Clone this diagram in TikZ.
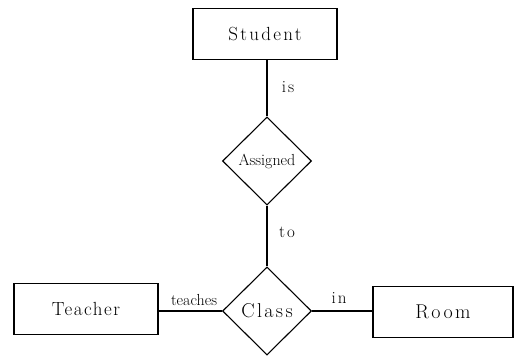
\documentclass[tikz,border=0pt]{standalone}
\usepackage{fontspec}
\usetikzlibrary{shapes.geometric}
\newfontfamily\spacedfont[LetterSpace=12]{Latin Modern Roman}
\newfontfamily\lessspacedfont[LetterSpace=8]{Latin Modern Roman}
\tikzset{
  entity/.style={draw, line width=1.1pt, minimum width=144pt, minimum height=51pt,
    font=\spacedfont\fontsize{19}{22}\selectfont},
  relation/.style={draw, diamond, line width=1.1pt, minimum width=89pt, minimum height=88pt,
    inner sep=0pt, aspect=1},
  rel/.style={line width=1.1pt},
  lbl/.style={font=\spacedfont\fontsize{17}{20}\selectfont}
}
\begin{document}
\begin{tikzpicture}[x=1pt, y=-1pt]
  \useasboundingbox (0,0) rectangle (514,356);
  % entities and relationships
  \node[entity] (student) at (265,34) {Student};
  \node[relation, font=\fontsize{16}{18}\selectfont] (assigned) at (267,161) {Assigned};
  \node[relation, font=\spacedfont\fontsize{20}{22}\selectfont] (class) at (267,311) {Class};
  \node[entity, font=\lessspacedfont\fontsize{19}{22}\selectfont] (teacher) at (86,309) {Teacher};
  \node[entity, minimum width=140pt, font=\spacedfont\fontsize{20}{22}\selectfont] (room) at (443,312) {Room};
  % connectors
  \draw[rel] (student.south -| assigned.north) -- (assigned.north);
  \draw[rel] (assigned.south) -- (class.north);
  \draw[rel] (teacher.east |- class.west) -- (class.west);
  \draw[rel] (class.east) -- (room.west |- class.east);
  % connector labels
  \node[lbl] (is) at (288,87) {is};
  \node[lbl] (to) at (287,232) {to};
  \node[lbl, font=\fontsize{16}{18}\selectfont] (teaches) at (194,300) {teaches};
  \node[lbl] (in) at (339,298) {in};
\end{tikzpicture}
\end{document}
